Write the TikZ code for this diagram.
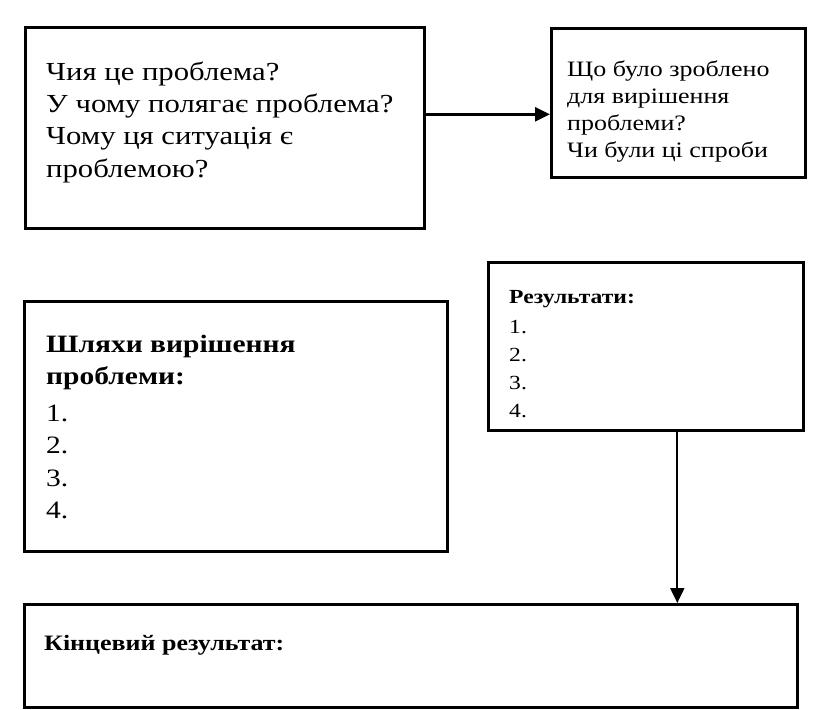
\documentclass[tikz,border=0pt]{standalone}
\usepackage{fontspec}
\setmainfont{Liberation Serif}[FakeStretch=1.18]
\usetikzlibrary{arrows.meta}

\begin{document}
\begin{tikzpicture}[x=1pt,y=-1pt,
						box/.style={draw, line width=2.6pt, inner sep=0pt, anchor=north west},
						txt/.style={anchor=base west, inner sep=0pt, align=left},
						arr/.style={-{Triangle[length=15pt,width=14pt]}}]
						\useasboundingbox (0,0) rectangle (837,709);
						\node[box, minimum width=399pt, minimum height=201pt] (problem) at (24,26) {};
						\node[box, minimum width=254pt, minimum height=149pt] (tried) at (550,27) {};
						\node[box, minimum width=315pt, minimum height=168pt] (results) at (487,261) {};
						\node[box, minimum width=423pt, minimum height=250pt] (ways) at (23,300) {};
						\node[box, minimum width=773pt, minimum height=103pt] (final) at (23,603) {};
						\node[txt, font=\fontsize{26}{32.3}\selectfont] (problemtxt) at (46,177)
						{Чия це проблема?\\У чому полягає проблема?\\Чому ця ситуація є\\проблемою?};
						\node[txt, font=\fontsize{22}{26.7}\selectfont] (triedtxt) at (567,157)
						{Що було зроблено\\для вирішення\\проблеми?\\Чи були ці спроби};
						\node[txt, font=\fontsize{20}{28}\selectfont] (resultstxt) at (509,417)
						{\textbf{Результати:}\\[2pt]1.\\2.\\3.\\4.};
						\node[txt, font=\fontsize{25}{32.5}\selectfont] (waystxt) at (46,518.5)
						{\textbf{Шляхи вирішення}\\\textbf{проблеми:}\\[4pt]1.\\2.\\3.\\4.};
						\node[txt, font=\fontsize{22}{26}\selectfont\bfseries] (finaltxt) at (44,650) {Кінцевий результат:};
						\coordinate (p1) at ([yshift=13.5pt]problem.east);
						\draw[arr, line width=2.8pt] (p1) -- (p1 -| tried.west);
						\coordinate (r1) at ([xshift=31.5pt]results.south);
						\draw[arr, line width=2pt] (r1) -- (r1 |- final.north);
					\end{tikzpicture}
\end{document}
